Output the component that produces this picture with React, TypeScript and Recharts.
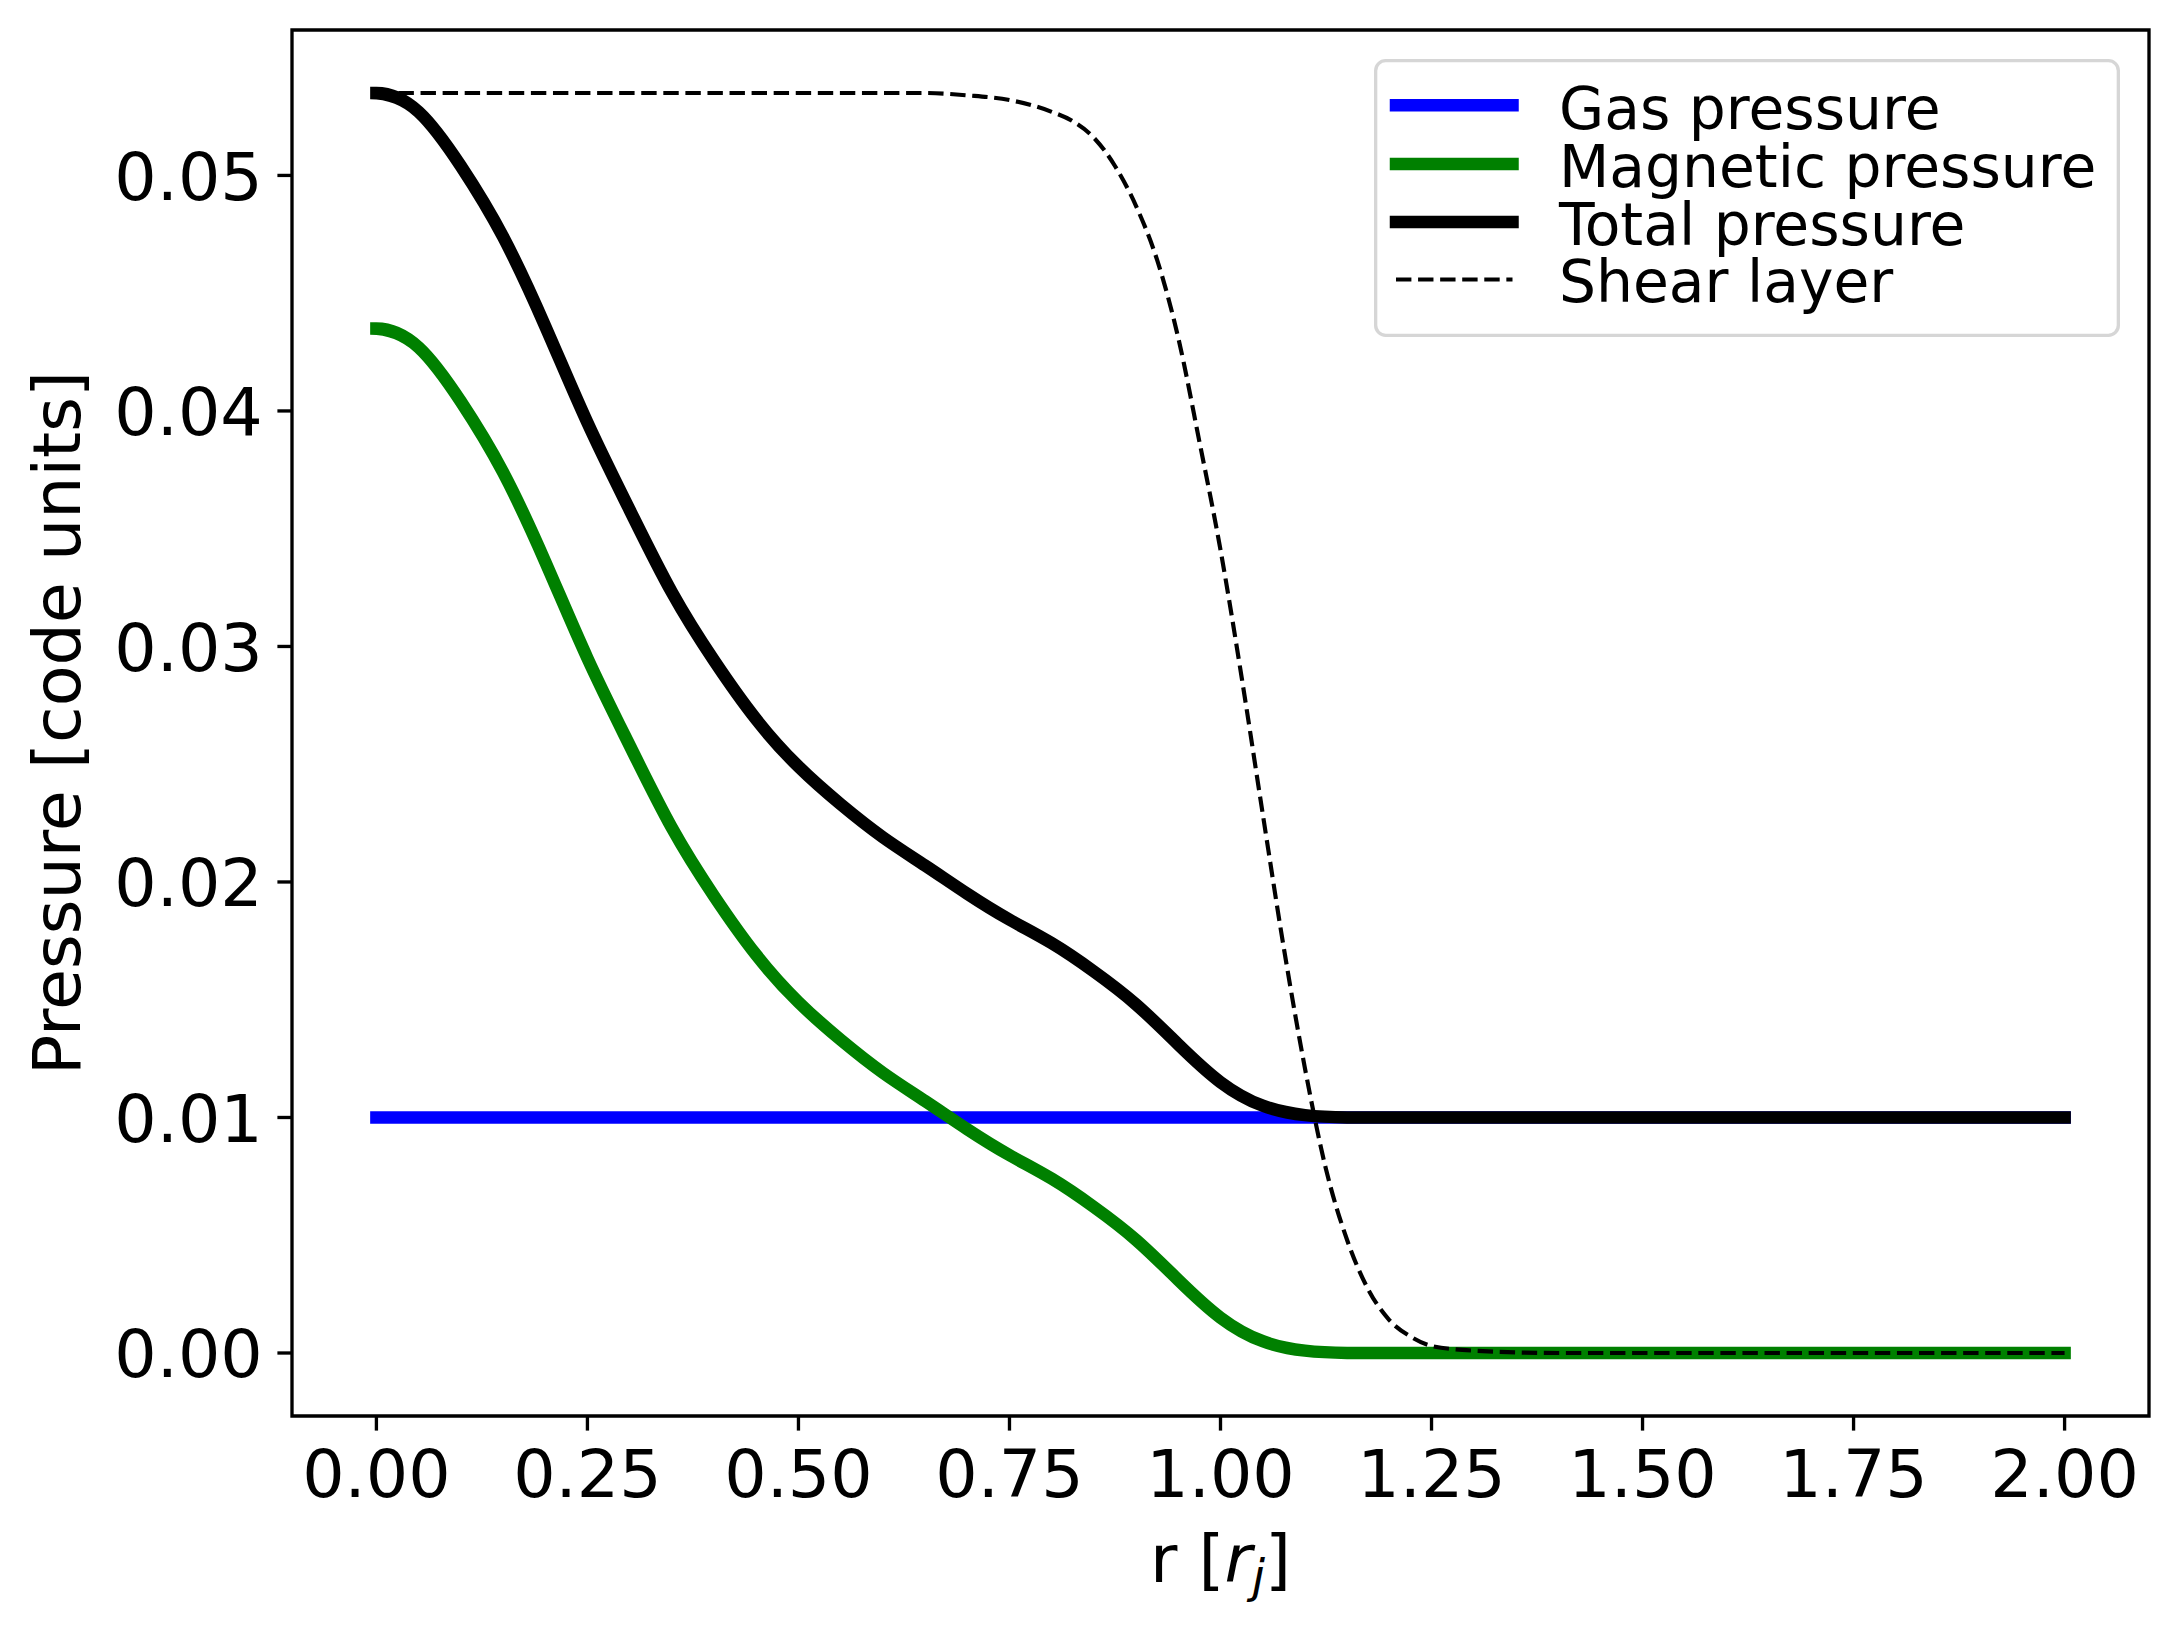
import React from 'react';
import { LineChart, Line, XAxis, YAxis, ReferenceArea, Legend } from 'recharts';

// ---- data ----
const rGrid = [
  0, 0.05, 0.1, 0.15, 0.2, 0.25, 0.3, 0.35, 0.4, 0.45,
  0.5, 0.55, 0.6, 0.65, 0.7, 0.75, 0.8, 0.85, 0.9, 0.95,
  1.0, 1.05, 1.1, 1.15, 1.2, 1.25, 1.3, 1.35, 1.4, 1.45,
  1.5, 1.55, 1.6, 1.65, 1.7, 1.75, 1.8, 1.85, 1.9, 1.95, 2.0,
];

const gasPressure = [
  0.01, 0.01, 0.01, 0.01, 0.01, 0.01, 0.01, 0.01, 0.01, 0.01,
  0.01, 0.01, 0.01, 0.01, 0.01, 0.01, 0.01, 0.01, 0.01, 0.01,
  0.01, 0.01, 0.01, 0.01, 0.01, 0.01, 0.01, 0.01, 0.01, 0.01,
  0.01, 0.01, 0.01, 0.01, 0.01, 0.01, 0.01, 0.01, 0.01, 0.01, 0.01,
];

const magneticPressure = [
  0.0435, 0.0427, 0.0404, 0.0374, 0.0336, 0.0295, 0.0258, 0.0223, 0.0194, 0.0169,
  0.0149, 0.0133, 0.0119, 0.0107, 0.0095, 0.0084, 0.0074, 0.0062, 0.0048, 0.0031,
  0.0015, 0.0005, 0.0001, 0, 0, 0, 0, 0, 0, 0,
  0, 0, 0, 0, 0, 0, 0, 0, 0, 0, 0,
];

const totalPressure = [
  0.0535, 0.0527, 0.0504, 0.0474, 0.0436, 0.0395, 0.0358, 0.0323, 0.0294, 0.0269,
  0.0249, 0.0233, 0.0219, 0.0207, 0.0195, 0.0184, 0.0174, 0.0162, 0.0148, 0.0131,
  0.0115, 0.0105, 0.0101, 0.01, 0.01, 0.01, 0.01, 0.01, 0.01, 0.01,
  0.01, 0.01, 0.01, 0.01, 0.01, 0.01, 0.01, 0.01, 0.01, 0.01, 0.01,
];

const shearR = [
  0, 0.2, 0.4, 0.6, 0.65, 0.7, 0.75, 0.8, 0.825, 0.85,
  0.875, 0.9, 0.925, 0.95, 0.975, 1.0, 1.025, 1.05, 1.075, 1.1,
  1.125, 1.15, 1.175, 1.2, 1.225, 1.25, 1.3, 1.4, 1.6, 1.8, 2.0,
];

const shearLayer = [
  0.0535, 0.0535, 0.0535, 0.0535, 0.0535, 0.0534, 0.0532, 0.0527, 0.0523, 0.0516,
  0.0504, 0.0487, 0.0464, 0.0431, 0.0387, 0.0341, 0.0287, 0.0229, 0.0172, 0.0121,
  0.0078, 0.0048, 0.0027, 0.0014, 0.0007, 0.0003, 0.0001, 0, 0, 0, 0,
];

const xTicks = [0, 0.25, 0.5, 0.75, 1.0, 1.25, 1.5, 1.75, 2.0];
const yTicks = [0, 0.01, 0.02, 0.03, 0.04, 0.05];

const seriesNames = ['Gas pressure', 'Magnetic pressure', 'Total pressure', 'Shear layer'];
const seriesColors = ['#0000ff', '#008000', '#000000', '#000000'];

// ---- styling / layout ----
const W = 2180;
const H = 1635;
const X_DOMAIN: [number, number] = [-0.1, 2.1];
const Y_DOMAIN: [number, number] = [-0.002675, 0.056175];
const FONT = '"DejaVu Sans", "DejaVu Sans Book", sans-serif';
const TICK_FS = 66.7;
const LEGEND_FS = 58.3;
const THICK = 12.5;
const THIN = 4.17;
const DASH = '15.4 6.67';
const SPINE = 3.33;
const TICK_LEN = 14.6;

// Cubic spline curve (y as a function of x), flat tangent at the first point
// (profile is symmetric about the axis r = 0), natural condition at the end.
function clampedSpline(context: any) {
  let xs: number[] = [];
  let ys: number[] = [];
  return {
    areaStart() {},
    areaEnd() {},
    lineStart() {
      xs = [];
      ys = [];
    },
    point(x: number, y: number) {
      xs.push(+x);
      ys.push(+y);
    },
    lineEnd() {
      const n = xs.length;
      if (n === 0) return;
      context.moveTo(xs[0], ys[0]);
      if (n === 1) return;
      if (n === 2) {
        context.lineTo(xs[1], ys[1]);
        return;
      }
      const h: number[] = [];
      for (let i = 0; i < n - 1; i++) h.push(xs[i + 1] - xs[i]);
      // tridiagonal system for slopes m
      const a = new Array(n).fill(0);
      const b = new Array(n).fill(0);
      const c = new Array(n).fill(0);
      const d = new Array(n).fill(0);
      b[0] = 1;
      c[0] = 0;
      d[0] = 0;
      for (let i = 1; i < n - 1; i++) {
        a[i] = 1 / h[i - 1];
        b[i] = 2 * (1 / h[i - 1] + 1 / h[i]);
        c[i] = 1 / h[i];
        d[i] = 3 * ((ys[i] - ys[i - 1]) / (h[i - 1] * h[i - 1]) + (ys[i + 1] - ys[i]) / (h[i] * h[i]));
      }
      a[n - 1] = 1 / h[n - 2];
      b[n - 1] = 2 / h[n - 2];
      d[n - 1] = (3 * (ys[n - 1] - ys[n - 2])) / (h[n - 2] * h[n - 2]);
      for (let i = 1; i < n; i++) {
        const w = a[i] / b[i - 1];
        b[i] -= w * c[i - 1];
        d[i] -= w * d[i - 1];
      }
      const m = new Array(n).fill(0);
      m[n - 1] = d[n - 1] / b[n - 1];
      for (let i = n - 2; i >= 0; i--) m[i] = (d[i] - c[i] * m[i + 1]) / b[i];
      for (let i = 0; i < n - 1; i++) {
        const dx = h[i] / 3;
        context.bezierCurveTo(
          xs[i] + dx,
          ys[i] + m[i] * dx,
          xs[i + 1] - dx,
          ys[i + 1] - m[i + 1] * dx,
          xs[i + 1],
          ys[i + 1],
        );
      }
    },
  };
}

const mainData = rGrid.map((r, i) => ({
  r,
  gas: gasPressure[i],
  mag: magneticPressure[i],
  total: totalPressure[i],
}));

const shearData = shearR.map((r, i) => ({ r, shear: shearLayer[i] }));

const XTick = (props: any) => {
  const { x, y, payload } = props;
  return (
    <text x={x} y={y} dy={TICK_FS * 0.729 + 3} textAnchor="middle" fontSize={TICK_FS} fontFamily={FONT} fill="#000">
      {Number(payload.value).toFixed(2)}
    </text>
  );
};

const YTick = (props: any) => {
  const { x, y, payload } = props;
  return (
    <text x={x} y={y} dy={TICK_FS * 0.3645} textAnchor="end" fontSize={TICK_FS} fontFamily={FONT} fill="#000">
      {Number(payload.value).toFixed(2)}
    </text>
  );
};

const YTitle = () => (
  <text
    x={80}
    y={723}
    transform="rotate(-90, 80, 723)"
    textAnchor="middle"
    fontSize={TICK_FS}
    fontFamily={FONT}
    fill="#000"
  >
    Pressure [code units]
  </text>
);

const XTitle = () => (
  <text x={1220.5} y={1582} textAnchor="middle" fontSize={TICK_FS} fontFamily={FONT} fill="#000">
    {'r ['}
    <tspan fontStyle="italic">r</tspan>
    <tspan fontStyle="italic" fontSize={46.7} dy={10}>j</tspan>
    <tspan dy={-10}>]</tspan>
  </text>
);

const legendRows = [46.3, 105, 163, 220.5];
const legendBaselines = [69.5, 127.5, 185.5, 243];

const LegendBox = () => (
  <svg width={746} height={278} style={{ display: 'block', overflow: 'visible' }}>
    <rect
      x={1.65}
      y={1.65}
      width={742.7}
      height={274.7}
      rx={10}
      ry={10}
      fill="#ffffff"
      fillOpacity={0.8}
      stroke="#d6d6d6"
      strokeWidth={SPINE}
    />
    {seriesNames.map((name, i) => {
      const dashed = i === 3;
      return (
        <g key={name}>
          <line
            x1={22}
            x2={138.5}
            y1={legendRows[i]}
            y2={legendRows[i]}
            stroke={seriesColors[i]}
            strokeWidth={dashed ? THIN : THICK}
            strokeDasharray={dashed ? DASH : undefined}
            strokeLinecap={dashed ? 'butt' : 'square'}
          />
          <text x={185} y={legendBaselines[i]} fontSize={LEGEND_FS} fontFamily={FONT} fill="#000">
            {name}
          </text>
        </g>
      );
    })}
  </svg>
);

export default function App() {
  return (
    <div style={{ position: 'absolute', left: 0, top: 0, width: W, height: H, background: '#fff' }}>
      <LineChart
        width={W}
        height={H}
        data={mainData}
        margin={{ top: 30, right: 31, bottom: 0, left: 0 }}
      >
        <XAxis
          type="number"
          dataKey="r"
          domain={X_DOMAIN}
          ticks={xTicks}
          interval={0}
          allowDataOverflow
          height={219}
          axisLine={false}
          tickLine={{ stroke: '#000', strokeWidth: SPINE }}
          tickSize={TICK_LEN}
          tickMargin={TICK_LEN}
          tick={<XTick />}
          label={<XTitle />}
        />
        <YAxis
          type="number"
          domain={Y_DOMAIN}
          ticks={yTicks}
          interval={0}
          allowDataOverflow
          width={292}
          axisLine={false}
          tickLine={{ stroke: '#000', strokeWidth: SPINE }}
          tickSize={TICK_LEN}
          tickMargin={TICK_LEN}
          tick={<YTick />}
          label={<YTitle />}
        />
        <Line
          name={seriesNames[0]}
          dataKey="gas"
          type="linear"
          stroke={seriesColors[0]}
          strokeWidth={THICK}
          strokeLinecap="square"
          strokeLinejoin="round"
          dot={false}
          activeDot={false}
          isAnimationActive={false}
        />
        <Line
          name={seriesNames[1]}
          dataKey="mag"
          type={clampedSpline as any}
          stroke={seriesColors[1]}
          strokeWidth={THICK}
          strokeLinecap="square"
          strokeLinejoin="round"
          dot={false}
          activeDot={false}
          isAnimationActive={false}
        />
        <Line
          name={seriesNames[2]}
          dataKey="total"
          type={clampedSpline as any}
          stroke={seriesColors[2]}
          strokeWidth={THICK}
          strokeLinecap="square"
          strokeLinejoin="round"
          dot={false}
          activeDot={false}
          isAnimationActive={false}
        />
        <Line
          name={seriesNames[3]}
          data={shearData}
          dataKey="shear"
          type="monotone"
          stroke={seriesColors[3]}
          strokeWidth={THIN}
          strokeDasharray={DASH}
          dot={false}
          activeDot={false}
          isAnimationActive={false}
        />
        <ReferenceArea
          x1={X_DOMAIN[0]}
          x2={X_DOMAIN[1]}
          y1={Y_DOMAIN[0]}
          y2={Y_DOMAIN[1]}
          fill="none"
          stroke="#000"
          strokeWidth={SPINE}
          ifOverflow="visible"
        />
        <Legend
          layout="vertical"
          align="center"
          verticalAlign="middle"
          content={() => <LegendBox />}
          wrapperStyle={{ position: 'absolute', left: 1374, top: 59, width: 746, height: 278, margin: 0, padding: 0 }}
        />
      </LineChart>
    </div>
  );
}
